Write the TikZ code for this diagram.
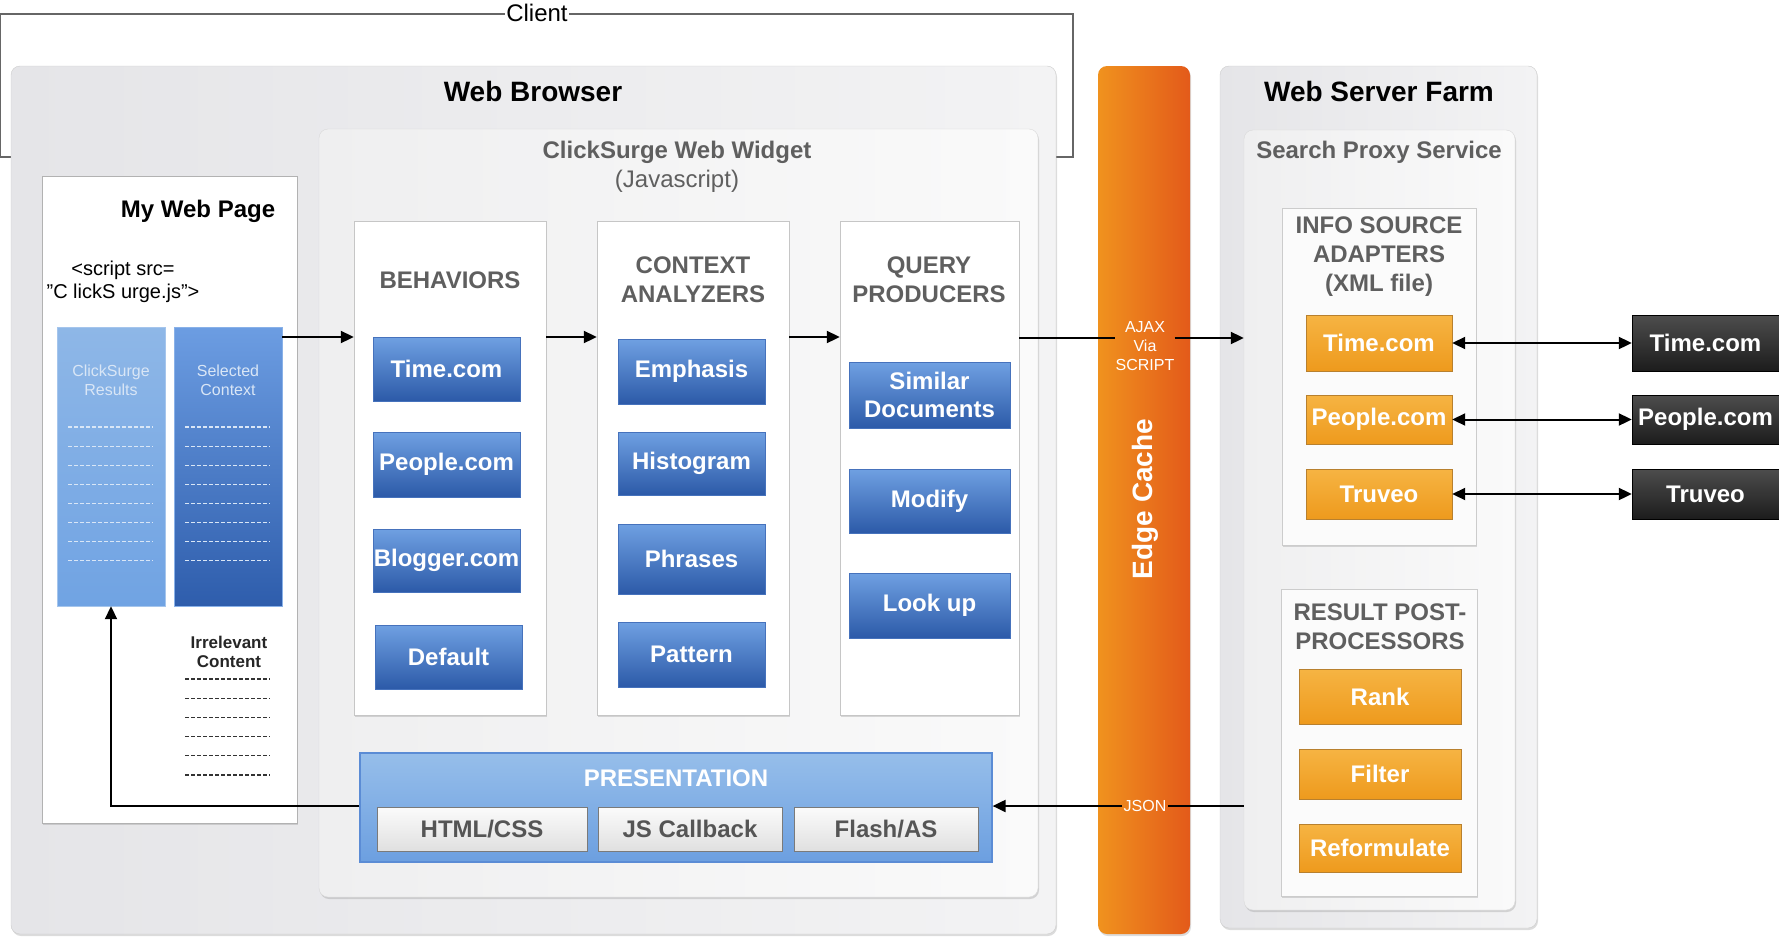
\documentclass[tikz,border=0pt]{standalone}
\usepackage{fontspec}
\setmainfont{Liberation Sans}
\usetikzlibrary{arrows.meta,shadows}
\definecolor{obL}{HTML}{E5E5E8}
\definecolor{obR}{HTML}{F3F3F4}
\definecolor{wbL}{HTML}{EFEFF0}
\definecolor{wbR}{HTML}{FAFAFA}
\definecolor{bbT}{HTML}{6FA0E2}
\definecolor{bbB}{HTML}{2C5AA8}
\definecolor{bbD}{HTML}{4672BC}
\definecolor{orT}{HTML}{F6B443}
\definecolor{orB}{HTML}{EE9A1D}
\definecolor{orD}{HTML}{B8802E}
\definecolor{dkT}{HTML}{4D4D4D}
\definecolor{dkB}{HTML}{1C1C1C}
\definecolor{edL}{HTML}{F0921E}
\definecolor{edR}{HTML}{E35A1A}
\definecolor{prT}{HTML}{96BEEA}
\definecolor{prB}{HTML}{6C9FE0}
\definecolor{prD}{HTML}{5B8CD5}
\definecolor{sbT}{HTML}{FBFBFB}
\definecolor{sbB}{HTML}{E0E0E0}
\definecolor{sbD}{HTML}{7A7A7A}
\definecolor{sbX}{HTML}{555555}
\definecolor{hdg}{HTML}{5F5F5F}
\definecolor{rsT}{HTML}{8EB7E7}
\definecolor{rsB}{HTML}{70A3E3}
\definecolor{scT}{HTML}{6C9DE2}
\definecolor{scB}{HTML}{2E5DAC}
\definecolor{ltx}{HTML}{D9E6F6}
\newcommand\fsz[2]{\fontsize{#1pt}{#2pt}\selectfont}
\newcommand\bx[7]{\node[#1,minimum width={#5-#3},minimum height={#6-#4}] (#2) at ({(#3+#5)/2},{(#4+#6)/2}) {#7};}
\tikzset{
  shd/.style={drop shadow={opacity=0.28,shadow xshift=1pt,shadow yshift=-2pt}},
  outerbox/.style={draw=gray!40,rounded corners=9pt,left color=obL,right color=obR,shd,inner sep=0pt},
  widgetbox/.style={draw=gray!30,rounded corners=9pt,left color=wbL,right color=wbR,shd,inner sep=0pt},
  edgebar/.style={rounded corners=9pt,left color=edL,right color=edR,shd,inner sep=0pt},
  pagebox/.style={draw=gray!60,fill=white,shd,inner sep=0pt},
  colbox/.style={draw=gray!45,fill=white,shd,inner sep=0pt},
  srcbox/.style={draw=gray!40,fill=white!97!gray,shd,inner sep=0pt},
  resbox/.style={top color=rsT,bottom color=rsB,draw=rsT!80!white,inner sep=0pt},
  selbox/.style={top color=scT,bottom color=scB,draw=scT!80!white,inner sep=0pt},
  bluebtn/.style={draw=bbD,top color=bbT,bottom color=bbB,text=white,font=\bfseries\fsz{24}{28},inner sep=0pt,align=center},
  orbtn/.style={draw=orD,top color=orT,bottom color=orB,text=white,font=\bfseries\fsz{24}{28},inner sep=0pt,align=center},
  dkbtn/.style={draw=black,top color=dkT,bottom color=dkB,text=white,font=\bfseries\fsz{24}{28},inner sep=0pt,align=center},
  presbox/.style={draw=prD,line width=1.2pt,top color=prT,bottom color=prB,inner sep=0pt},
  subbtn/.style={draw=sbD,top color=sbT,bottom color=sbB,text=sbX,font=\bfseries\fsz{24}{28},inner sep=0pt},
  heading/.style={text=hdg,font=\bfseries\fsz{24}{29},align=center,inner sep=0pt},
  title/.style={text=black,font=\bfseries\fsz{28}{32},inner sep=0pt},
  arr/.style={draw=black,line width=2pt,-{Triangle[length=13pt,width=12pt]}},
  darr/.style={draw=black,line width=2pt,{Triangle[length=13pt,width=12pt]}-{Triangle[length=13pt,width=12pt]}},
  plain/.style={draw=black,line width=2pt},
  wdash/.style={draw=ltx,line width=1.1pt,dash pattern=on 4pt off 2pt},
  kdash/.style={draw=black!80,line width=1.3pt,dash pattern=on 4pt off 2pt},
}
\begin{document}
\begin{tikzpicture}[x=1pt,y=-1pt]
\useasboundingbox (0,0) rectangle (1779,937);
% client bracket
\draw[draw=gray!80!black,line width=1.2pt] (14,157) -- (0.8,157) -- (0.8,14) -- (1073,14) -- (1073,157) -- (1052,157);
\node[fill=white,inner sep=1.5pt,font=\fsz{24}{28}] (client) at (537,13) {Client};
% main containers
\bx{outerbox}{browser}{11}{66}{1056}{934}{}
\bx{edgebar}{edge}{1098}{66}{1190}{934}{}
\bx{outerbox}{farm}{1220}{66}{1537}{928}{}
\bx{widgetbox}{widget}{319}{129}{1038}{897}{}
\bx{widgetbox}{proxy}{1244}{130}{1515}{910}{}
\node[title] (browserT) at (533,91) {Web Browser};
\node[title] (farmT) at (1379,91) {Web Server Farm};
\node[heading,align=center] (widgetT) at (677,167) {ClickSurge Web Widget\\{\mdseries (Javascript)}};
\node[heading] (proxyT) at (1379,152) {Search Proxy Service};
% my web page
\bx{pagebox}{page}{42}{176}{297}{823}{}
\node[font=\bfseries\fsz{24}{28},inner sep=0pt] (pageT) at (198,211) {My Web Page};
\node[font=\fsz{20}{23},align=center,inner sep=0pt] (script) at (123,282) {<script src=\\”C lickS urge.js”>};
\bx{resbox}{results}{57}{327}{165}{606}{}
\bx{selbox}{selctx}{174}{327}{282}{606}{}
\node[text=ltx,font=\fsz{16}{19},align=center,inner sep=0pt] (resT) at (111,380) {ClickSurge\\Results};
\node[text=ltx,font=\fsz{16}{19},align=center,inner sep=0pt] (selT) at (228,380) {Selected\\Context};
\foreach \i in {0,...,7} {
  \draw[wdash] (68,{427+19.1*\i}) -- (153,{427+19.1*\i});
  \draw[wdash] (185,{427+19.1*\i}) -- (270,{427+19.1*\i});
}
\node[text=black!85,font=\bfseries\fsz{17}{19},align=center,inner sep=0pt] (irrT) at (229,652) {Irrelevant\\Content};
\foreach \i in {0,...,5} {
  \draw[kdash] (185,{679+19.2*\i}) -- (270,{679+19.2*\i});
}
% columns
\bx{colbox}{behav}{354}{221}{546}{715}{}
\bx{colbox}{ctx}{597}{221}{789}{715}{}
\bx{colbox}{query}{840}{221}{1019}{715}{}
\node[heading] (behavT) at (450,280) {BEHAVIORS};
\node[heading] (ctxT) at (693,280) {CONTEXT\\ANALYZERS};
\node[heading] (queryT) at (929,280) {QUERY\\PRODUCERS};
\bx{bluebtn}{b1}{373}{337}{520}{401}{Time.com}
\bx{bluebtn}{b2}{373}{432}{520}{497}{People.com}
\bx{bluebtn}{b3}{373}{529}{520}{592}{Blogger.com}
\bx{bluebtn}{b4}{375}{625}{522}{689}{Default}
\bx{bluebtn}{c1}{618}{339}{765}{404}{Emphasis}
\bx{bluebtn}{c2}{618}{432}{765}{495}{Histogram}
\bx{bluebtn}{c3}{618}{524}{765}{594}{Phrases}
\bx{bluebtn}{c4}{618}{622}{765}{687}{Pattern}
\bx{bluebtn}{q1}{849}{362}{1010}{428}{Similar\\Documents}
\bx{bluebtn}{q2}{849}{469}{1010}{533}{Modify}
\bx{bluebtn}{q3}{849}{573}{1010}{638}{Look up}
% presentation
\bx{presbox}{pres}{360}{753}{992}{862}{}
\node[text=white,font=\bfseries\fsz{24}{28},inner sep=0pt] (presT) at (676,778) {PRESENTATION};
\bx{subbtn}{p1}{377}{807}{587}{851}{HTML/CSS}
\bx{subbtn}{p2}{598}{807}{782}{851}{JS Callback}
\bx{subbtn}{p3}{794}{807}{978}{851}{Flash/AS}
% edge cache labels
\node[rotate=90,text=white,font=\bfseries\fsz{28}{32},inner sep=0pt] (edgeT) at (1145,499) {Edge Cache};
\node[text=white,font=\fsz{16}{19},align=center,inner sep=0pt] (ajax) at (1145,346) {AJAX\\Via\\SCRIPT};
\node[text=white,font=\fsz{16}{19},inner sep=1pt] (json) at (1145,806) {JSON};
% server side
\bx{srcbox}{info}{1282}{208}{1476}{545}{}
\node[heading] (infoT) at (1379,257) {INFO SOURCE\\ADAPTERS\\(XML file)};
\bx{orbtn}{o1}{1306}{315}{1452}{371}{Time.com}
\bx{orbtn}{o2}{1306}{395}{1452}{444}{People.com}
\bx{orbtn}{o3}{1306}{469}{1452}{519}{Truveo}
\bx{dkbtn}{d1}{1632}{315}{1779}{371}{Time.com}
\bx{dkbtn}{d2}{1632}{395}{1779}{444}{People.com}
\bx{dkbtn}{d3}{1632}{469}{1779}{519}{Truveo}
\bx{srcbox}{post}{1281}{589}{1477}{896}{}
\node[heading] (postT) at (1380,627) {RESULT POST-\\PROCESSORS};
\bx{orbtn}{r1}{1299}{669}{1461}{724}{Rank}
\bx{orbtn}{r2}{1299}{749}{1461}{799}{Filter}
\bx{orbtn}{r3}{1299}{824}{1461}{872}{Reformulate}
% connectors
\draw[arr] (selctx.east |- 0,337) -- (behav.west |- 0,337);
\draw[arr] (behav.east |- 0,337) -- (ctx.west |- 0,337);
\draw[arr] (ctx.east |- 0,337) -- (query.west |- 0,337);
\draw[plain] (query.east |- 0,338) -- (ajax.west |- 0,338);
\draw[arr] (ajax.east |- 0,338) -- (proxy.west |- 0,338);
\draw[darr] (o1.east) -- (d1.west);
\draw[darr] (o2.east) -- (d2.west);
\draw[darr] (o3.east) -- (d3.west);
\draw[plain] (proxy.west |- json) -- (json.east);
\draw[arr] (json.west) -- (pres.east |- json);
\draw[arr] (pres.west |- json) -- (results.south |- json) -- (results.south);
\end{tikzpicture}
\end{document}
